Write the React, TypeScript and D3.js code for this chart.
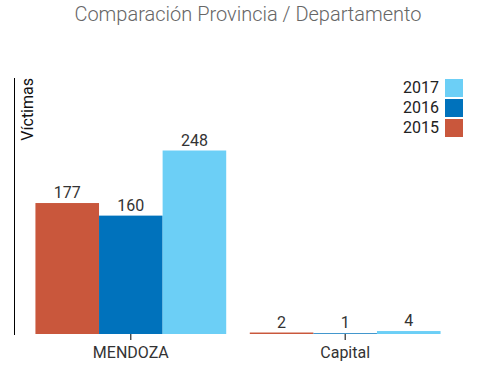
import React, { useRef, useEffect } from 'react';
import * as d3 from 'd3';

const categories = ['MENDOZA', 'Capital'];
const years = ['2015', '2016', '2017'];
const values2015 = [177, 2];
const values2016 = [160, 1];
const values2017 = [248, 4];
const colors = ['#C9573C', '#0072BC', '#6CCFF6'];

function App() {
  const svgRef = useRef(null);

  useEffect(() => {
    const svg = d3.select(svgRef.current);
    svg.selectAll('*').remove();

    const width = 482;
    const height = 368;
    const margin = { top: 78, right: 20, bottom: 34, left: 14 };
    const font = 'Roboto, sans-serif';

    const series = [values2015, values2016, values2017];

    const x0 = d3.scaleBand()
      .domain(categories)
      .range([margin.left, width - margin.right])
      .paddingInner(0.11)
      .paddingOuter(0.1);

    const x1 = d3.scaleBand()
      .domain(years)
      .range([0, x0.bandwidth()]);

    const y = d3.scaleLinear()
      .domain([0, 346])
      .range([height - margin.bottom, margin.top]);

    // title
    svg.append('text')
      .attr('x', width / 2 + 7)
      .attr('y', 21)
      .attr('text-anchor', 'middle')
      .attr('font-family', font)
      .attr('font-weight', 300)
      .attr('font-size', 20)
      .attr('fill', '#666')
      .text('Comparación Provincia / Departamento');

    // bars
    categories.forEach((cat, ci) => {
      const g = svg.append('g').attr('transform', `translate(${x0(cat)},0)`);
      years.forEach((yr, si) => {
        const v = series[si][ci];
        g.append('rect')
          .attr('x', x1(yr))
          .attr('y', y(v))
          .attr('width', x1.bandwidth())
          .attr('height', y(0) - y(v))
          .attr('fill', colors[si]);
        g.append('text')
          .attr('x', x1(yr) + x1.bandwidth() / 2)
          .attr('y', y(v) - 5)
          .attr('text-anchor', 'middle')
          .attr('font-family', font)
          .attr('font-size', 16)
          .attr('fill', '#333')
          .text(v);
      });
    });

    // x axis
    const xAxis = svg.append('g')
      .attr('transform', `translate(0,${y(0)})`)
      .call(d3.axisBottom(x0).tickSize(6).tickSizeOuter(0));
    xAxis.select('.domain').remove();
    xAxis.selectAll('line').attr('stroke', '#000');
    xAxis.selectAll('text')
      .attr('font-family', font)
      .attr('font-size', 16)
      .attr('fill', '#333')
      .attr('dy', '0.95em');

    // y axis line
    svg.append('line')
      .attr('x1', margin.left + 0.5)
      .attr('x2', margin.left + 0.5)
      .attr('y1', margin.top)
      .attr('y2', y(0) + 1)
      .attr('stroke', '#000');

    svg.append('text')
      .attr('transform', `translate(33,${margin.top}) rotate(-90)`)
      .attr('text-anchor', 'end')
      .attr('font-family', font)
      .attr('font-size', 16)
      .attr('fill', '#111')
      .text('Víctimas');

    // legend
    const legend = svg.append('g')
      .selectAll('g')
      .data(years.slice().reverse())
      .enter().append('g')
      .attr('transform', (d, i) => `translate(0,${79 + i * 20})`);

    legend.append('rect')
      .attr('x', 445)
      .attr('y', 0)
      .attr('width', 18)
      .attr('height', 18)
      .attr('fill', d => colors[years.indexOf(d)]);

    legend.append('text')
      .attr('x', 439)
      .attr('y', 8)
      .attr('dy', '0.35em')
      .attr('text-anchor', 'end')
      .attr('font-family', font)
      .attr('font-size', 16)
      .attr('fill', '#222')
      .text(d => d);
  }, []);

  return (
    <svg
      ref={svgRef}
      width={482}
      height={368}
      style={{ position: 'absolute', left: 0, top: 0 }}
    />
  );
}

export default App;
